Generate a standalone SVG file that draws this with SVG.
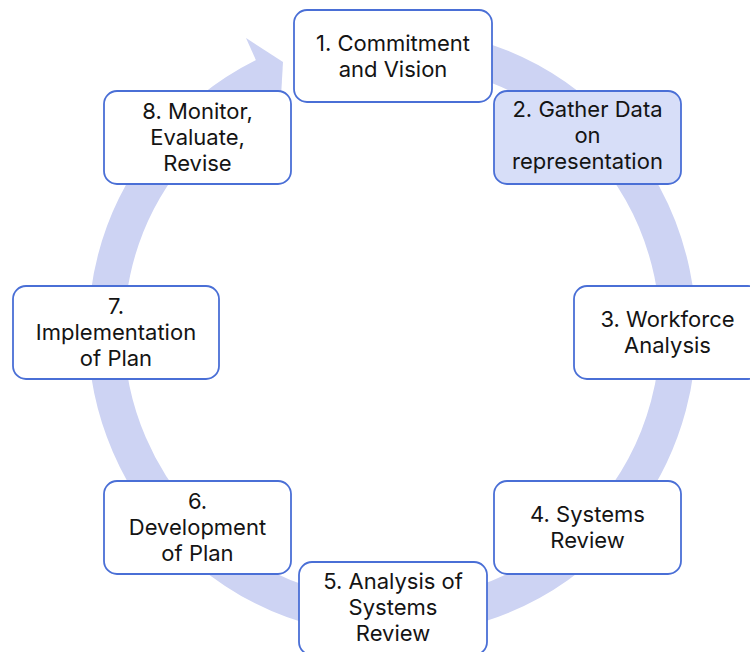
<svg xmlns="http://www.w3.org/2000/svg" width="750" height="652" viewBox="0 0 750 652">
<style>
.box{fill:#ffffff;stroke:#4a6fd6;stroke-width:1.8}
.hl{fill:#d7def8}
.t{font-family:Inter,"Open Sans","Liberation Sans",sans-serif;font-size:22px;fill:#141414;text-anchor:middle}
.band{fill:none;stroke:#cdd3f3;stroke-width:36}
.head{fill:#cdd3f3}
</style>
<rect width="750" height="652" fill="#ffffff"/>
<g id="connectors">
<path class="band" d="M 342.3 50.3 A 286 286 0 1 1 271.1 72.8"/>
<polygon class="head" points="246,38 283,62 280,114"/>
</g>
<g id="n1"><rect class="box" x="294" y="10" width="198" height="92" rx="13"/><text class="t" x="393" y="51">1. Commitment</text><text class="t" x="393" y="77">and Vision</text></g>
<g id="n2"><rect class="box hl" x="494" y="91" width="187" height="93" rx="13"/><text class="t" x="587.5" y="117">2. Gather Data</text><text class="t" x="587.5" y="143">on</text><text class="t" x="587.5" y="169">representation</text></g>
<g id="n3"><rect class="box" x="574" y="286" width="187" height="93" rx="13"/><text class="t" x="667.5" y="327">3. Workforce</text><text class="t" x="667.5" y="353">Analysis</text></g>
<g id="n4"><rect class="box" x="494" y="481" width="187" height="93" rx="13"/><text class="t" x="587.5" y="522">4. Systems</text><text class="t" x="587.5" y="548">Review</text></g>
<g id="n5"><rect class="box" x="299" y="562" width="188" height="93" rx="13"/><text class="t" x="393" y="589">5. Analysis of</text><text class="t" x="393" y="615">Systems</text><text class="t" x="393" y="641">Review</text></g>
<g id="n6"><rect class="box" x="104" y="481" width="187" height="93" rx="13"/><text class="t" x="197.5" y="509">6.</text><text class="t" x="197.5" y="535">Development</text><text class="t" x="197.5" y="561">of Plan</text></g>
<g id="n7"><rect class="box" x="13" y="286" width="206" height="93" rx="13"/><text class="t" x="116" y="314">7.</text><text class="t" x="116" y="340">Implementation</text><text class="t" x="116" y="366">of Plan</text></g>
<g id="n8"><rect class="box" x="104" y="91" width="187" height="93" rx="13"/><text class="t" x="197.5" y="119">8. Monitor,</text><text class="t" x="197.5" y="145">Evaluate,</text><text class="t" x="197.5" y="171">Revise</text></g>
</svg>
